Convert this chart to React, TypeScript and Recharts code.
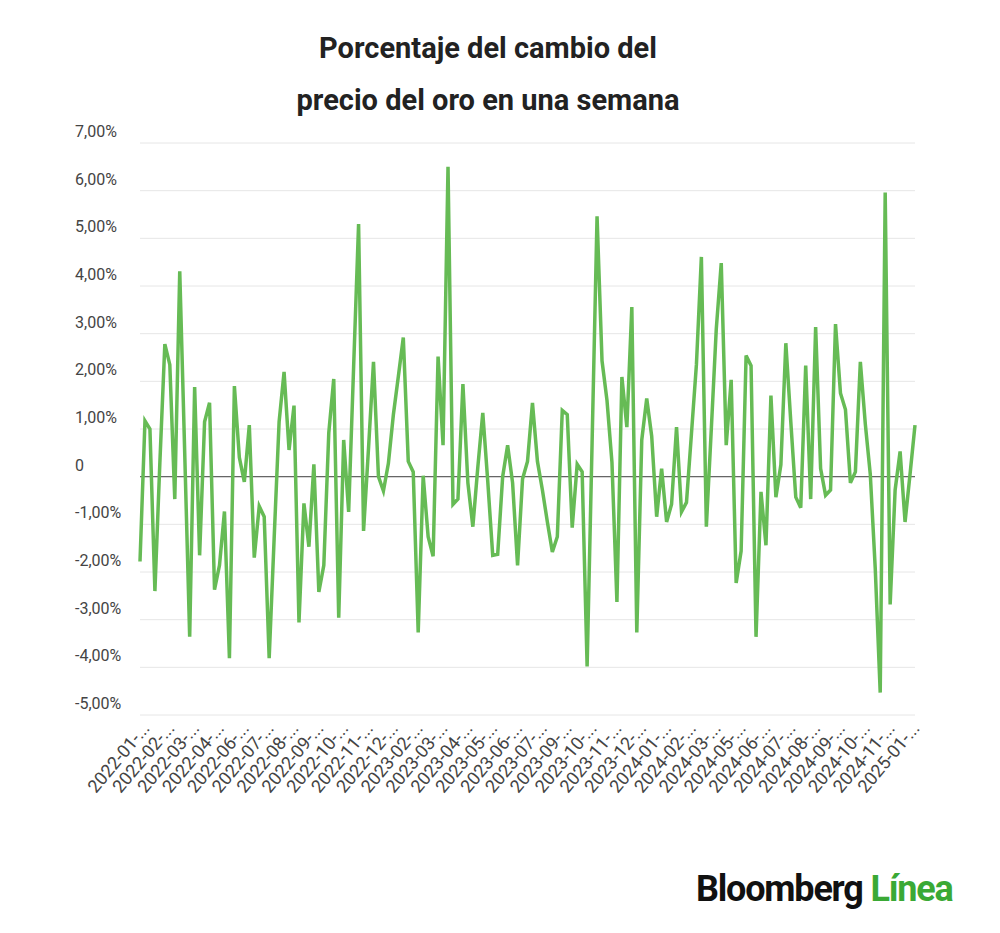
import React from "react";
import { LineChart, Line, XAxis, YAxis, CartesianGrid, ReferenceLine } from "recharts";

const values: number[] = [
  -1.78, 1.17, 1.0, -2.4, 0.3, 2.78, 2.35, -0.47, 4.31, 0.5, -3.36, 1.88, -1.65, 1.15, 1.55, -2.37, -1.86, -0.73, -3.81, 1.9,
  0.4, -0.11, 1.08, -1.7, -0.62, -0.84, -3.81, -1.3, 1.15, 2.2, 0.56, 1.49, -3.06, -0.56, -1.47, 0.26, -2.42, -1.86, 0.92, 2.05,
  -2.96, 0.77, -0.74, 2.3, 5.3, -1.14, 0.6, 2.41, 0, -0.3, 0.28,
  1.3, 2.1, 2.92, 0.32, 0.1, -3.27, 0.02, -1.26, -1.67, 2.52, 0.66, 6.5, -0.58, -0.47, 1.94, -0.13, -1.05, 0.2, 1.34, -0.1,
  -1.65, -1.63, 0, 0.66, -0.13, -1.86, -0.05, 0.32, 1.55, 0.32, -0.28, -0.95, -1.58, -1.26, 1.39, 1.3, -1.07, 0.26, 0.1, -3.98,
  0.7, 5.46, 2.43, 1.6, 0.3, -2.63, 2.09, 1.04, 3.56, -3.27, 0.77, 1.64, 0.85,
  -0.84, 0.17, -0.95, -0.58, 1.04, -0.74, -0.54, 0.9, 2.35, 4.61, -1.05, 1.0, 3.1, 4.48, 0.66, 2.03, -2.23, -1.56, 2.54, 2.33,
  -3.36, -0.32, -1.44, 1.7, -0.43, 0.25, 2.8, 1.15, -0.43, -0.65, 2.33, -0.47, 3.14, 0.17, -0.39, -0.28, 3.2, 1.75, 1.41, -0.13,
  0.1, 2.41, 1.1, 0.05, -1.93, -4.53, 5.96, -2.68, -0.28, 0.53, -0.95, 0.05, 1.08,
];

const yTicks: number[] = [7, 6, 5, 4, 3, 2, 1, 0, -1, -2, -3, -4, -5];

const startDate = new Date(Date.UTC(2022, 0, 14));
const dates: string[] = values.map((_, i) => {
  const d = new Date(startDate.getTime() + i * 7 * 86400000);
  return d.toISOString().slice(0, 10);
});
dates[dates.length - 3] = "2025-01-03";

const data = values.map((v, i) => ({ date: dates[i], value: v }));

const fmtY = (v: number) => (v === 0 ? "0" : v.toFixed(2).replace(".", ",") + "%");

const YTick = (props: any) => {
  const { y, payload } = props;
  return (
    <text x={67} y={y - 6} fill="#444" fontSize={16} textAnchor="start" fontFamily="Roboto, sans-serif">
      {fmtY(payload.value)}
    </text>
  );
};

const XTick = (props: any) => {
  const { x, y, payload } = props;
  const label = String(payload.value).slice(0, 8) + "...";
  return (
    <g transform={`translate(${x + 6},${y + 2})`}>
      <text transform="rotate(-50)" textAnchor="end" fill="#444" fontSize={18} fontFamily="Roboto, sans-serif" dy={6}>
        {label}
      </text>
    </g>
  );
};

export default function App() {
  return (
    <div style={{ position: "relative", width: 984, height: 917, background: "#fff", fontFamily: "Roboto, sans-serif" }}>
      <div style={{ position: "absolute", top: 14, left: 0, width: 960, textAlign: "center", fontSize: 29, fontWeight: 700, color: "#222", lineHeight: "52px" }}>
        Porcentaje del cambio del<br />precio del oro en una semana
      </div>
      <div style={{ position: "absolute", top: 0, left: 0 }}>
        <LineChart width={984} height={860} data={data} margin={{ top: 135, right: 77, left: 0, bottom: 53 }}>
          <CartesianGrid vertical={false} stroke="#e6e6e6" />
          <XAxis dataKey="date" interval={4} tick={<XTick />} axisLine={false} tickLine={false} height={100} />
          <YAxis domain={[-5, 7]} ticks={yTicks} tick={<YTick />} axisLine={false} tickLine={false} width={132} />
          <ReferenceLine y={0} stroke="#666" strokeWidth={1.2} />
          <Line type="linear" dataKey="value" stroke="#66bb55" strokeWidth={3.5} dot={false} isAnimationActive={false} />
        </LineChart>
      </div>
      <div style={{ position: "absolute", top: 860, left: 688, fontSize: 36, fontWeight: 700, letterSpacing: -1.2, color: "#111" }}>
        Bloomberg <span style={{ color: "#3aa935" }}>Línea</span>
      </div>
    </div>
  );
}
